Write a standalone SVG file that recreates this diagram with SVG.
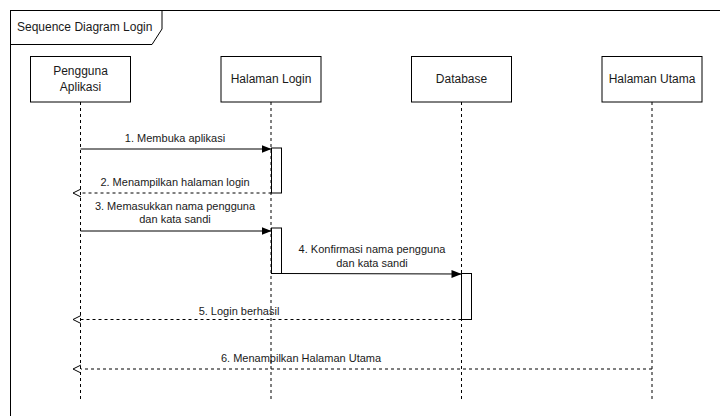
<svg xmlns="http://www.w3.org/2000/svg" width="720" height="416" viewBox="0 0 720 416">
  <defs>
    <style>
      text { font-family: "Liberation Sans", Arial, Helvetica, sans-serif; fill: #1a1a1a; }
      .lbl { font-size: 12px; text-anchor: middle; dominant-baseline: central; }
      .msg { font-size: 11px; text-anchor: middle; dominant-baseline: central; }
      .box { fill: #ffffff; stroke: #000000; stroke-width: 1; }
      .life { stroke: #000000; stroke-width: 1; stroke-dasharray: 3 3; fill: none; }
      .act { fill: #ffffff; stroke: #000000; stroke-width: 1; }
      .call { stroke: #000000; stroke-width: 1; fill: none; marker-end: url(#solid); }
      .ret { stroke: #000000; stroke-width: 1; stroke-dasharray: 3 3; fill: none; marker-end: url(#open); }
    </style>
    <marker id="solid" viewBox="0 0 10 10" refX="10" refY="5" markerWidth="10" markerHeight="10" markerUnits="userSpaceOnUse" orient="auto">
      <path d="M0,1 L10,5 L0,9 Z" fill="#000000"/>
    </marker>
    <marker id="open" viewBox="0 0 10 10" refX="1" refY="5" markerWidth="10" markerHeight="10" markerUnits="userSpaceOnUse" orient="auto">
      <path d="M1,1 L9,5 L1,9" fill="none" stroke="#000000" stroke-width="1"/>
    </marker>
  </defs>

  <rect width="720" height="416" fill="#ffffff"/>

  <!-- sequence frame with title tab -->
  <g id="frame">
    <rect x="10.5" y="10.5" width="740" height="440" fill="none" stroke="#000000" stroke-width="1"/>
    <path d="M10.5,44.5 H152 L162,29 V10.5" fill="none" stroke="#000000" stroke-width="1"/>
    <text x="17" y="27" font-size="12" dominant-baseline="central">Sequence Diagram Login</text>
  </g>

  <!-- participants with lifelines -->
  <g id="pengguna">
    <line class="life" x1="80.5" y1="102" x2="80.5" y2="400"/>
    <rect class="box" x="30.5" y="56.5" width="100" height="45.5"/>
    <text class="lbl" x="80.5" y="71">Pengguna</text>
    <text class="lbl" x="80.5" y="87">Aplikasi</text>
  </g>
  <g id="halaman-login">
    <line class="life" x1="271" y1="102" x2="271" y2="400"/>
    <rect class="box" x="221" y="56.5" width="100" height="45.5"/>
    <text class="lbl" x="271" y="79">Halaman Login</text>
  </g>
  <g id="database">
    <line class="life" x1="461.5" y1="102" x2="461.5" y2="400"/>
    <rect class="box" x="411.5" y="56.5" width="100" height="45.5"/>
    <text class="lbl" x="461.5" y="79">Database</text>
  </g>
  <g id="halaman-utama">
    <line class="life" x1="652" y1="102" x2="652" y2="400"/>
    <rect class="box" x="602" y="56.5" width="100" height="45.5"/>
    <text class="lbl" x="652" y="79">Halaman Utama</text>
  </g>

  <!-- activation bars -->
  <g id="activations">
    <rect class="act" x="271.5" y="148" width="10" height="45"/>
    <rect class="act" x="271.5" y="228" width="10" height="45.5"/>
    <rect class="act" x="461.5" y="273.5" width="10" height="46"/>
  </g>

  <!-- messages -->
  <g id="connectors">
    <line class="call" x1="80.5" y1="149" x2="271.5" y2="149"/>
    <text class="msg" x="175" y="138">1. Membuka aplikasi</text>

    <line class="ret" x1="271.5" y1="193" x2="81" y2="193"/>
    <text class="msg" x="175" y="182">2. Menampilkan halaman login</text>

    <line class="call" x1="80.5" y1="231" x2="271.5" y2="231"/>
    <text class="msg" x="175" y="206">3. Memasukkan nama pengguna</text>
    <text class="msg" x="175" y="219">dan kata sandi</text>

    <line class="call" x1="281.5" y1="273.5" x2="461.5" y2="274"/>
    <text class="msg" x="372" y="249">4. Konfirmasi nama pengguna</text>
    <text class="msg" x="372" y="262.5">dan kata sandi</text>

    <line class="ret" x1="461.5" y1="319.5" x2="81" y2="319.5"/>
    <text class="msg" x="239" y="310.5">5. Login berhasil</text>

    <line class="ret" x1="652" y1="369" x2="81" y2="369"/>
    <text class="msg" x="301" y="358">6. Menampilkan Halaman Utama</text>
  </g>
</svg>
